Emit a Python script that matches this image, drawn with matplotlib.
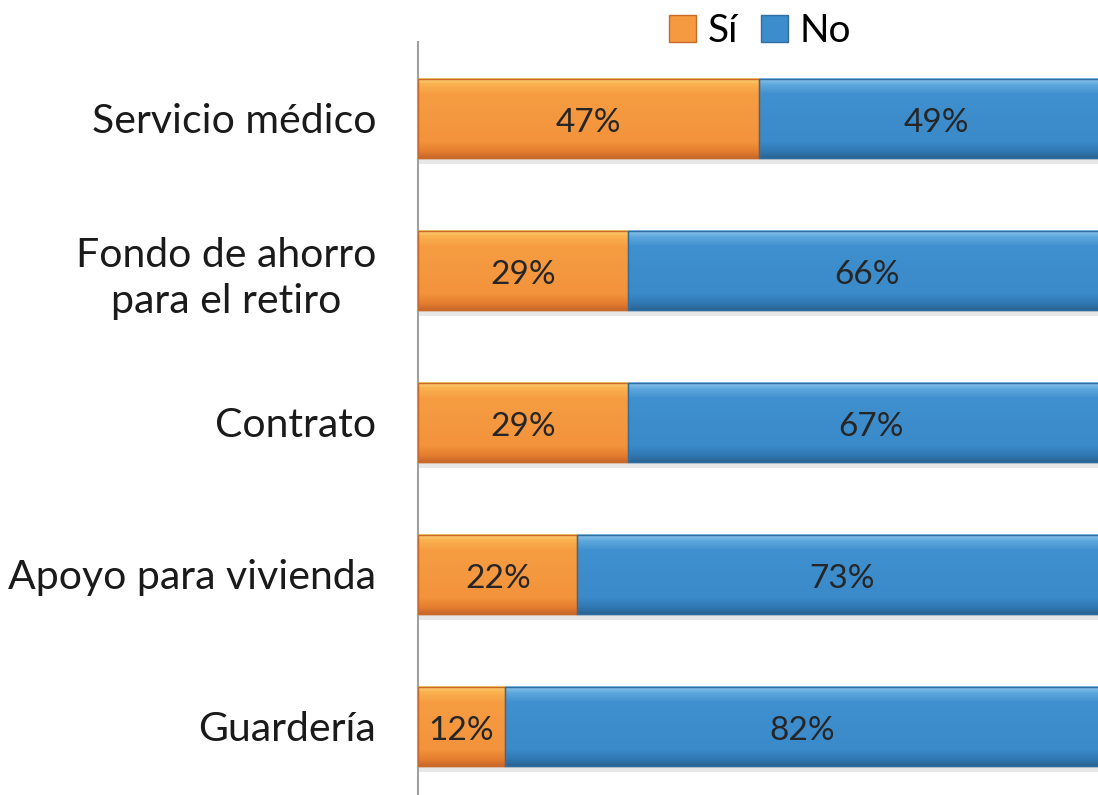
import matplotlib.pyplot as plt
from matplotlib.colors import LinearSegmentedColormap
import numpy as np

categorias = ["Servicio médico", "Fondo de ahorro\npara el retiro", "Contrato",
              "Apoyo para vivienda", "Guardería"]
si = [47, 29, 29, 22, 12]
no = [49, 66, 67, 73, 82]

plt.rcParams['font.family'] = ['Lato', 'DejaVu Sans']

fig = plt.figure(figsize=(10.98, 7.95), dpi=100)
ax = fig.add_axes([0.3807, -0.0094, 0.6193, 0.956])

y = np.arange(len(categorias))
h = 0.52

cmap_si = LinearSegmentedColormap.from_list('si', [(0, '#FCD070'), (0.08, '#F9B04E'), (0.2, '#F69D42'),
                                                  (0.8, '#F3933C'), (0.92, '#E47D2E'), (1, '#C9682A')])
cmap_no = LinearSegmentedColormap.from_list('no', [(0, '#8CC6EE'), (0.08, '#5FA8DD'), (0.2, '#3F90CF'),
                                                  (0.8, '#3B8ACA'), (0.92, '#3078B2'), (1, '#2A6596')])

b1 = ax.barh(y, si, height=h, color='#F59A40', edgecolor='#C8682A', linewidth=1.0, label='Sí', zorder=2)
b2 = ax.barh(y, no, left=si, height=h, color='#3B8DCC', edgecolor='#2F6E9F', linewidth=1.0, label='No', zorder=2)

grad = np.linspace(0, 1, 200).reshape(-1, 1)
for bars, cm in [(b1, cmap_si), (b2, cmap_no)]:
    for bar in bars:
        x0, y0, w, hh = bar.get_x(), bar.get_y(), bar.get_width(), bar.get_height()
        ax.imshow(grad, extent=[x0, x0 + w, y0 + hh, y0], aspect='auto', cmap=cm,
                  clip_path=bar, zorder=2.5, interpolation='bilinear')
        borde = plt.Rectangle((x0, y0), w, hh, fill=False, edgecolor=bar.get_edgecolor(),
                              linewidth=1.0, zorder=2.6)
        ax.add_patch(borde)

# sombra
ax.barh(y + h / 2 + 0.02, np.add(si, no), height=0.04, color='#E8E8E8', linewidth=0, zorder=1)

for i in range(len(categorias)):
    ax.text(si[i] / 2, y[i] + 0.03, f"{si[i]}%", ha='center', va='center', fontsize=24, color='#262626', zorder=3)
    ax.text(si[i] + no[i] / 2, y[i] + 0.03, f"{no[i]}%", ha='center', va='center', fontsize=24, color='#262626', zorder=3)

ax.set_xlim(0, 93.8)
ax.set_ylim(-0.5, len(categorias) - 0.5)
ax.invert_yaxis()
ax.set_yticks(y)
ax.set_yticklabels(categorias, fontsize=29.5, color='#1a1a1a', multialignment='center', linespacing=1.3)
ax.tick_params(axis='y', length=0, pad=30)
ax.set_xticks([])
for s in ['top', 'right', 'bottom']:
    ax.spines[s].set_visible(False)
ax.spines['left'].set_color('#A0A0A0')
ax.spines['left'].set_linewidth(1.5)

fig.legend(handles=[b1, b2], labels=['Sí', 'No'], loc='upper center',
           bbox_to_anchor=(760 / 1098, 1.028), ncol=2, frameon=False, fontsize=28,
           handlelength=0.7, handleheight=0.7, handletextpad=0.3, columnspacing=0.6)

fig.savefig('out.png', dpi=100)
